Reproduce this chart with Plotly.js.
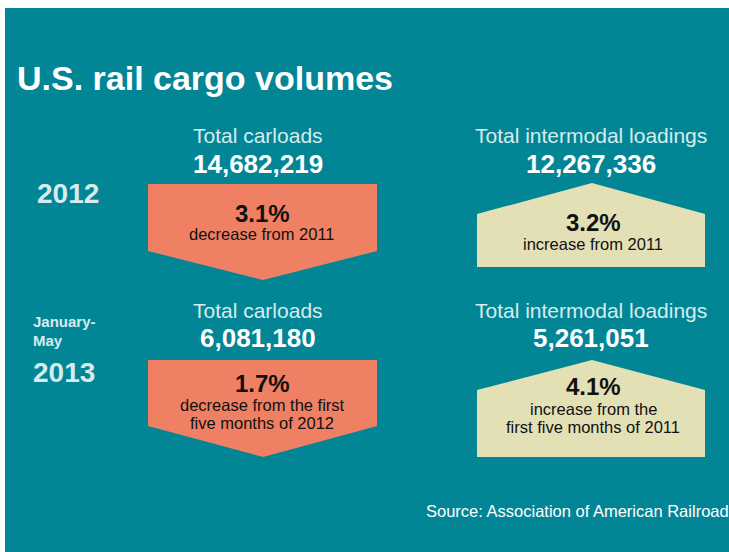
<!DOCTYPE html>
<html>
<head>
<meta charset="utf-8">
<script src="https://cdn.plot.ly/plotly-3.0.1.min.js"></script>
<style>html,body{margin:0;padding:0;background:#fff;}#chart{width:729px;height:552px;}</style>
</head>
<body>
<div id="chart"></div>
<script>
// ---- data ----
const chartTitle = 'U.S. rail cargo volumes';
const periodYears = ['2012', '2013'];
const periodNotes = ['', 'January-<br>May'];
const measureNames = ['Total carloads', 'Total intermodal loadings'];
const carloadTotals = [14682219, 6081180];
const carloadChange = [-3.1, -1.7];
const carloadDesc = ['decrease from 2011', 'decrease from the first<br>five months of 2012'];
const intermodalTotals = [12267336, 5261051];
const intermodalChange = [3.2, 4.1];
const intermodalDesc = ['increase from 2011', 'increase from the<br>first five months of 2011'];
const sourceText = 'Source: Association of American Railroad';

// ---- layout constants (pixels) ----
const W = 729, H = 552;
const TEAL = 'rgb(2,134,150)', ORANGE = 'rgb(240,128,99)', BEIGE = 'rgb(227,224,182)';
const LIGHT = 'rgb(214,236,238)';
const FONT = '"Liberation Sans", Arial, Helvetica, sans-serif';
const cols = [{x0:148, x1:377, cx:263, lx:258, tx:262}, {x0:477, x1:705, cx:592, lx:591, tx:593}];
const rows = [
  {label:143, num:173, down:{top:184, side:251, tip:280}, up:{peak:183, side:214, bot:267},
   pctDown:222, descDown:240, pctUp:231, descUp:250, descStep:16.5},
  {label:318, num:347, down:{top:360, side:426, tip:457}, up:{peak:360, side:390, bot:457},
   pctDown:392, descDown:411, pctUp:395, descUp:415, descStep:17.5}
];

const traces = [];
const annotations = [];
function ann(text, x, baseline, size, color, weight, xanchor) {
  annotations.push({
    text: text, x: x, y: baseline - 0.35 * size, xref: 'x', yref: 'y',
    xanchor: xanchor || 'center', yanchor: 'middle', showarrow: false,
    font: {family: FONT, size: size, color: color, weight: weight || 400}
  });
}
function poly(xs, ys, color) {
  traces.push({type:'scatter', mode:'lines', x: xs, y: ys, fill:'toself', fillcolor: color,
    line:{width:0, color: color}, hoverinfo:'skip', showlegend:false});
}
const fmt = v => v.toLocaleString('en-US');
const pct = v => Math.abs(v).toFixed(1) + '%';

ann(chartTitle, 15, 90, 34, '#ffffff', 700, 'left');

rows.forEach((r, i) => {
  // period labels
  if (periodNotes[i]) {
    const lines = periodNotes[i].split('<br>');
    lines.forEach((ln, k) => ann(ln, 31, 327 + k * 19, 15, LIGHT, 700, 'left'));
    ann(periodYears[i], 31, 382, 28, LIGHT, 700, 'left');
  } else {
    ann(periodYears[i], 35, 203, 28, LIGHT, 700, 'left');
  }
  // carloads (down arrow)
  const c = cols[0], d = r.down;
  poly([c.x0, c.x1, c.x1, c.cx, c.x0, c.x0], [d.top, d.top, d.side, d.tip, d.side, d.top], ORANGE);
  ann(measureNames[0], c.lx, r.label, 21, LIGHT, 300);
  ann(fmt(carloadTotals[i]), c.lx, r.num, 26, '#ffffff', 700);
  ann(pct(carloadChange[i]), c.tx, r.pctDown, 24, '#111111', 700);
  carloadDesc[i].split('<br>').forEach((ln, k) => ann(ln, c.tx, r.descDown + k * r.descStep, 16.5, '#111111', 400));
  // intermodal (up arrow)
  const e = cols[1], u = r.up;
  poly([e.x0, e.cx, e.x1, e.x1, e.x0, e.x0], [u.side, u.peak, u.side, u.bot, u.bot, u.side], BEIGE);
  ann(measureNames[1], e.lx, r.label, 21, LIGHT, 300);
  ann(fmt(intermodalTotals[i]), e.lx, r.num, 26, '#ffffff', 700);
  ann(pct(intermodalChange[i]), e.tx, r.pctUp, 24, '#111111', 700);
  intermodalDesc[i].split('<br>').forEach((ln, k) => ann(ln, e.tx, r.descUp + k * r.descStep, 16.5, '#111111', 400));
});

ann(sourceText, 424, 517, 16.5, '#ffffff', 400, 'left');

const layout = {
  width: W, height: H, margin: {l:0, r:0, t:0, b:0, pad:0},
  paper_bgcolor: '#ffffff', plot_bgcolor: 'rgba(0,0,0,0)',
  xaxis: {range:[0, W], visible:false, fixedrange:true},
  yaxis: {range:[H, 0], visible:false, fixedrange:true},
  showlegend: false,
  shapes: [{type:'rect', xref:'x', yref:'y', x0:5, x1:W, y0:8, y1:H, fillcolor:TEAL, line:{width:0}, layer:'below'}],
  annotations: annotations
};
Plotly.newPlot('chart', traces, layout, {displayModeBar:false, staticPlot:true});
</script>
</body>
</html>
